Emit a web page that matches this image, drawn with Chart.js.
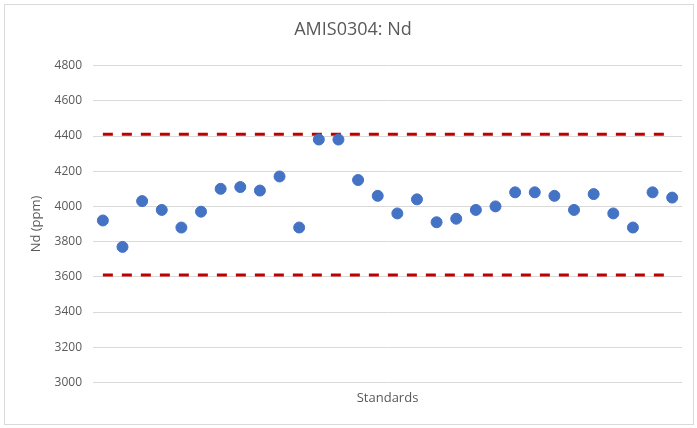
<!DOCTYPE html>
<html>
<head>
<meta charset="utf-8">
<script src="https://cdn.jsdelivr.net/npm/chart.js@4"></script>
<style>
  body { margin: 0; background: #fff; }
  #frame { position: absolute; left: 4px; top: 4px; width: 688px; height: 419px; border: 1px solid #d9d9d9; }
  #wrap { position: absolute; left: 0; top: 0; width: 697px; height: 428px; }
</style>
</head>
<body>
<div id="frame"></div>
<div id="wrap"><canvas id="chart" width="697" height="428"></canvas></div>
<script>
// Nd values for the 30 AMIS0304 standards (ppm)
const samples = ['1','2','3','4','5','6','7','8','9','10','11','12','13','14','15',
                 '16','17','18','19','20','21','22','23','24','25','26','27','28','29','30'];
const ndValues = [3920, 3770, 4030, 3980, 3880, 3970, 4100, 4110, 4090, 4170,
                  3880, 4380, 4380, 4150, 4060, 3960, 4040, 3910, 3930, 3980,
                  4000, 4080, 4080, 4060, 3980, 4070, 3960, 3880, 4080, 4050];
const upperLimit = 4410;
const lowerLimit = 3610;
const yTicks = [3000, 3200, 3400, 3600, 3800, 4000, 4200, 4400, 4600, 4800];

const fontFamily = "'Open Sans', 'Liberation Sans', sans-serif";

const ctx = document.getElementById('chart').getContext('2d');
const ndChart = new Chart(ctx, {
    type: 'line',
    data: {
        labels: samples,
        datasets: [
            {
                label: 'Nd',
                data: ndValues,
                showLine: false,
                pointRadius: 5.5,
                pointHoverRadius: 5.5,
                pointBackgroundColor: '#4472c4',
                pointBorderColor: '#4472c4',
                order: 0
            },
            {
                label: 'Upper',
                data: samples.map(() => upperLimit),
                borderColor: '#c00000',
                borderWidth: 3,
                borderDash: [10, 9],
                pointRadius: 0,
                fill: false,
                order: 1
            },
            {
                label: 'Lower',
                data: samples.map(() => lowerLimit),
                borderColor: '#c00000',
                borderWidth: 3,
                borderDash: [10, 9],
                pointRadius: 0,
                fill: false,
                order: 1
            }
        ]
    },
    options: {
        responsive: false,
        animation: false,
        layout: { padding: { left: 24, right: 15, top: 13, bottom: 18 } },
        plugins: {
            legend: { display: false },
            tooltip: { enabled: false },
            title: {
                display: true,
                text: 'AMIS0304: Nd',
                color: '#595959',
                font: { family: fontFamily, size: 18, weight: 'normal' },
                padding: { top: 6, bottom: 25 }
            }
        },
        scales: {
            x: {
                offset: true,
                grid: { display: false },
                border: { display: false },
                ticks: { display: false },
                title: {
                    display: true,
                    text: 'Standards',
                    color: '#595959',
                    font: { family: fontFamily, size: 13 },
                    padding: { top: 0 }
                }
            },
            y: {
                min: 3000,
                max: 4800,
                afterBuildTicks: axis => { axis.ticks = yTicks.map(v => ({ value: v })); },
                grid: { color: '#d9d9d9', drawTicks: false },
                border: { display: false },
                ticks: {
                    color: '#595959',
                    padding: 11,
                    font: { family: fontFamily, size: 12 },
                    callback: v => String(v)
                },
                title: {
                    display: true,
                    text: 'Nd (ppm)',
                    color: '#595959',
                    font: { family: fontFamily, size: 13 },
                    padding: { bottom: 0 }
                }
            }
        }
    }
});
</script>
</body>
</html>
